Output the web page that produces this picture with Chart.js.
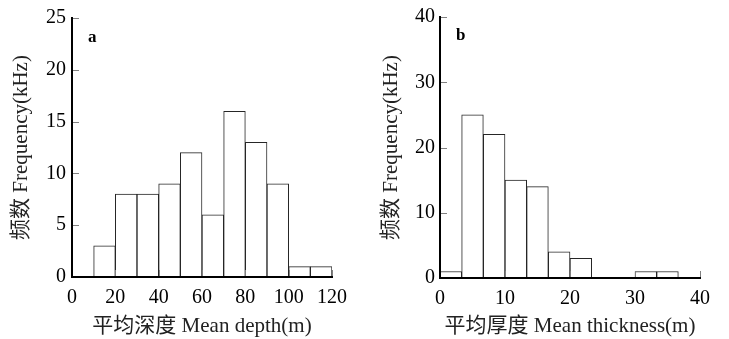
<!DOCTYPE html>
<html>
<head>
<meta charset="utf-8">
<script src="https://cdn.jsdelivr.net/npm/chart.js@4/dist/chart.umd.min.js"></script>
<style>
  html, body { margin: 0; padding: 0; background: #fff; }
  #wrap { position: relative; width: 729px; height: 339px; overflow: hidden; }
  canvas { position: absolute; top: 0; }
</style>
</head>
<body>
<div id="wrap">
  <canvas id="c1" width="365" height="339" style="left:0"></canvas>
  <canvas id="c2" width="364" height="339" style="left:365px"></canvas>
</div>
<script>
// ---- data ----
const depthBinStart = [10, 20, 30, 40, 50, 60, 70, 80, 90, 100, 110];
const depthBinWidth = 10;
const depthCounts = [3, 8, 8, 9, 12, 6, 16, 13, 9, 1, 1];
const depthTicksX = [0, 20, 40, 60, 80, 100, 120];
const depthTicksY = [0, 5, 10, 15, 20, 25];

const thickBinStart = [0, 10/3, 20/3, 10, 40/3, 50/3, 20, 30, 100/3];
const thickBinWidth = 10/3;
const thickCounts = [1, 25, 22, 15, 14, 4, 3, 1, 1];
const thickTicksX = [0, 10, 20, 30, 40];
const thickTicksY = [0, 10, 20, 30, 40];

const yTitle = '频数 Frequency(kHz)';
const xTitleA = '平均深度 Mean depth(m)';
const xTitleB = '平均厚度 Mean thickness(m)';

const FAM = "'Liberation Serif', 'Noto Sans CJK SC', serif";

const innerTicks = {
  id: 'innerTicks',
  afterDraw(chart, args, opts) {
    const {ctx, chartArea, scales: {x, y}} = chart;
    ctx.save();
    ctx.strokeStyle = '#808080';
    ctx.lineWidth = 1;
    y.ticks.forEach(t => {
      if (t.value === y.min) return;
      const py = Math.round(y.getPixelForValue(t.value)) + 0.5;
      ctx.beginPath(); ctx.moveTo(chartArea.left + 1, py); ctx.lineTo(chartArea.left + opts.len, py); ctx.stroke();
    });
    x.ticks.forEach(t => {
      if (t.value === x.min) return;
      const px = Math.round(x.getPixelForValue(t.value)) + 0.5;
      ctx.beginPath(); ctx.moveTo(px, chartArea.bottom - 1); ctx.lineTo(px, chartArea.bottom - opts.len); ctx.stroke();
    });
    ctx.fillStyle = '#000';
    ctx.font = "bold 17px " + FAM;
    ctx.textBaseline = 'alphabetic';
    ctx.textAlign = 'left';
    ctx.fillText(opts.letter, chartArea.left + opts.lx, chartArea.top + opts.ly);
    ctx.restore();
  }
};

function makeChart(id, starts, width, counts, ticksX, ticksY, xTitle, geo) {
  const pts = starts.map((s, i) => ({x: s + width / 2, y: counts[i]}));
  return new Chart(document.getElementById(id), {
    type: 'bar',
    data: {
      datasets: [{
        data: pts,
        backgroundColor: '#ffffff',
        borderColor: '#262626',
        borderWidth: 1,
        borderSkipped: 'bottom',
        barPercentage: 1,
        categoryPercentage: 1
      }]
    },
    plugins: [innerTicks],
    options: {
      responsive: false,
      animation: false,
      maintainAspectRatio: false,
      layout: {padding: {left: 0, top: geo.top, right: geo.right, bottom: 0}},
      plugins: {
        legend: {display: false},
        tooltip: {enabled: false},
        innerTicks: {len: 7, letter: geo.letter, lx: geo.lx, ly: geo.ly}
      },
      scales: {
        x: {
          type: 'linear',
          offset: false,
          min: ticksX[0],
          max: ticksX[ticksX.length - 1],
          afterBuildTicks: s => { s.ticks = ticksX.map(v => ({value: v})); },
          afterFit: s => { s.height = geo.xh; },
          grid: {display: false, drawTicks: false, offset: false},
          border: {display: true, color: '#000', width: 2, z: 1},
          ticks: {color: '#000', padding: geo.xpad, maxRotation: 0, autoSkip: false,
                  font: {family: FAM, size: 20}},
          title: {display: true, text: xTitle, color: '#222', padding: {top: 0, bottom: geo.xtb},
                  font: {family: FAM, size: 21}}
        },
        y: {
          type: 'linear',
          min: ticksY[0],
          max: ticksY[ticksY.length - 1],
          afterBuildTicks: s => { s.ticks = ticksY.map(v => ({value: v})); },
          afterFit: s => { s.width = geo.yw; },
          grid: {display: false, drawTicks: false},
          border: {display: true, color: '#000', width: 2, z: 1},
          ticks: {color: '#000', padding: geo.ypad, font: {family: FAM, size: 20}},
          title: {display: true, text: yTitle, color: '#222', padding: {top: geo.ytp, bottom: 0},
                  font: {family: FAM, size: 21}}
        }
      }
    }
  });
}

makeChart('c1', depthBinStart, depthBinWidth, depthCounts, depthTicksX, depthTicksY, xTitleA,
  {top: 16, right: 33, xh: 62, yw: 72, xpad: 9, xtb: 0, ytp: 9, ypad: 6, letter: 'a', lx: 16, ly: 24});
makeChart('c2', thickBinStart, thickBinWidth, thickCounts, thickTicksX, thickTicksY, xTitleB,
  {top: 16, right: 29, xh: 61, yw: 75, xpad: 9, xtb: 0, ytp: 14, ypad: 5, letter: 'b', lx: 16, ly: 23});
</script>
</body>
</html>
